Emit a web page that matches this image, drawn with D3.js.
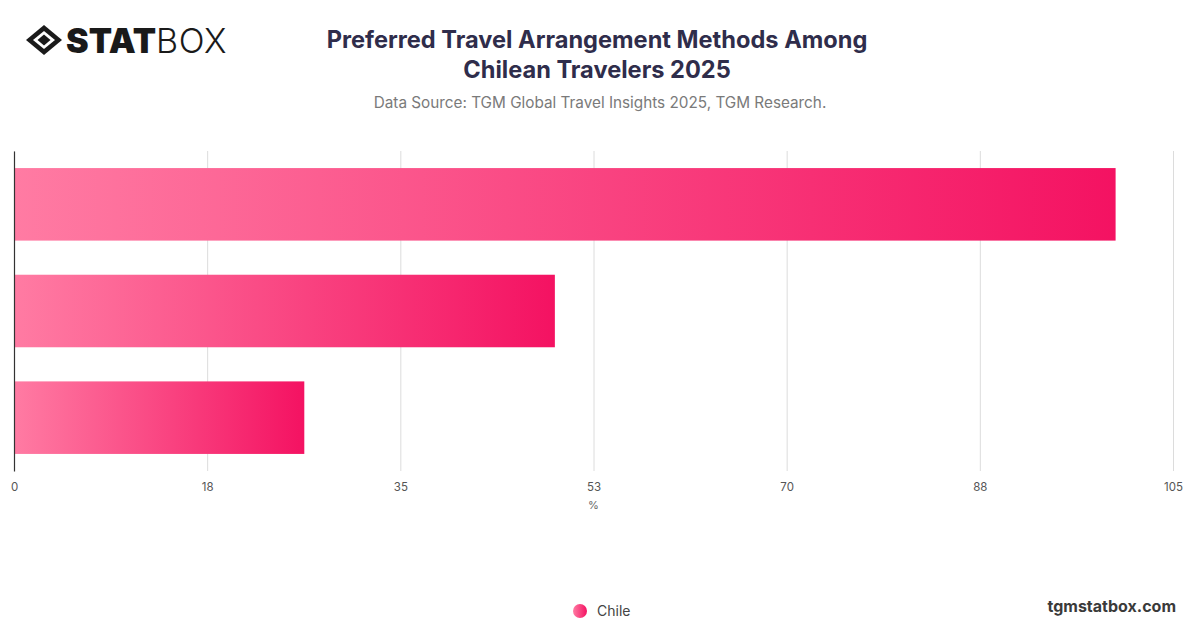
<!DOCTYPE html>
<html>
<head>
<meta charset="utf-8">
<script src="https://cdn.jsdelivr.net/npm/d3@7"></script>
<style>
  html, body { margin: 0; padding: 0; background: #fff; }
  svg { display: block; font-family: Inter, "Noto Sans", sans-serif; }
</style>
</head>
<body>
<div id="chart"></div>
<script>
// data
var categories = ["Online travel platforms", "Travel agencies", "Direct with providers"];
var values = [99.8, 49.0, 26.3];
var seriesName = "Chile";
var tickValues = [0, 17.5, 35, 52.5, 70, 87.5, 105];
var tickLabels = ["0", "18", "35", "53", "70", "88", "105"];

var W = 1200, H = 628;
var margin = {top: 151, right: 27, bottom: 157, left: 14};
var width = W - margin.left - margin.right;
var height = H - margin.top - margin.bottom;

var svg = d3.select("#chart").append("svg")
    .attr("width", W)
    .attr("height", H);

var defs = svg.append("defs");
var grad = defs.append("linearGradient")
    .attr("id", "barGrad")
    .attr("x1", "0%").attr("y1", "0%")
    .attr("x2", "100%").attr("y2", "0%");
grad.append("stop").attr("offset", "0%").attr("stop-color", "#ff7ba3");
grad.append("stop").attr("offset", "100%").attr("stop-color", "#f41262");

// logo
var logo = svg.append("g").attr("transform", "translate(26,40)");
logo.append("path")
    .attr("d", "M0,0 L18,-15 L36,0 L18,15 Z")
    .attr("fill", "#1a1a1a");
logo.append("path")
    .attr("d", "M7,0 L18,-9 L29,0 L18,9 Z")
    .attr("fill", "#fff");
logo.append("path")
    .attr("d", "M11.5,0 L18,-5.5 L24.5,0 L18,5.5 Z")
    .attr("fill", "#1a1a1a");
logo.append("text")
    .attr("x", 40).attr("y", 12.5)
    .style("font-family", "Inter, sans-serif")
    .style("font-weight", 900)
    .style("font-size", "34px")
    .style("letter-spacing", "0px")
    .attr("fill", "#1a1a1a")
    .text("STAT")
  .append("tspan")
    .style("font-weight", 300)
    .style("letter-spacing", "0.5px")
    .text("BOX");

// title
svg.append("text")
    .attr("x", 597).attr("y", 48)
    .attr("text-anchor", "middle")
    .style("font-size", "23.6px")
    .style("font-weight", 700)
    .attr("fill", "#2f2d4b")
    .text("Preferred Travel Arrangement Methods Among");
svg.append("text")
    .attr("x", 597).attr("y", 78)
    .attr("text-anchor", "middle")
    .style("font-size", "23.6px")
    .style("font-weight", 700)
    .attr("fill", "#2f2d4b")
    .text("Chilean Travelers 2025");
svg.append("text")
    .attr("x", 600).attr("y", 108)
    .attr("text-anchor", "middle")
    .style("font-size", "15.3px")
    .attr("fill", "#7a7a7a")
    .text("Data Source: TGM Global Travel Insights 2025, TGM Research.");

var g = svg.append("g")
    .attr("transform", "translate(" + margin.left + "," + margin.top + ")");

var xScale = d3.scaleLinear().domain([0, 105]).range([0, width]);
var yScale = d3.scaleBand().domain(categories).range([0, height])
    .paddingInner(0.32).paddingOuter(0.16);

// grid lines
var xGrid = d3.axisBottom(xScale).tickValues(tickValues).tickSize(-height).tickFormat("");
g.append("g")
    .attr("transform", "translate(0," + height + ")")
    .call(xGrid)
    .call(function(s) {
        s.select(".domain").remove();
        s.selectAll("line").attr("stroke", "#dcdcdc");
    });

// x axis labels
var xAxis = d3.axisBottom(xScale).tickValues(tickValues).tickSize(0)
    .tickFormat(function(d, i) { return tickLabels[i]; });
g.append("g")
    .attr("transform", "translate(0," + height + ")")
    .call(xAxis)
    .call(function(s) {
        s.select(".domain").remove();
        s.selectAll("text")
            .attr("dy", "1.05em")
            .attr("y", 8)
            .style("font-family", "Inter, sans-serif")
            .style("font-size", "11.5px")
            .attr("fill", "#555");
    });

g.append("text")
    .attr("x", width / 2).attr("y", height + 38)
    .attr("text-anchor", "middle")
    .style("font-size", "11px")
    .attr("fill", "#666")
    .text("%");

// bars
g.selectAll(".bar")
    .data(values)
    .enter().append("rect")
    .attr("class", "bar")
    .attr("x", 0)
    .attr("y", function(d, i) { return yScale(categories[i]); })
    .attr("width", function(d) { return xScale(d); })
    .attr("height", yScale.bandwidth())
    .attr("fill", "url(#barGrad)");

// y axis line
var yAxis = d3.axisLeft(yScale).tickSize(0).tickFormat("");
g.append("g")
    .call(yAxis)
    .call(function(s) {
        s.select(".domain").attr("stroke", "#333").attr("stroke-width", 1.2);
    });

// legend
var legend = svg.append("g").attr("transform", "translate(580,611)");
legend.append("circle").attr("r", 7).attr("fill", "url(#barGrad)");
legend.append("text")
    .attr("x", 17).attr("y", 5)
    .style("font-size", "14px")
    .attr("fill", "#444")
    .text(seriesName);

// watermark
svg.append("text")
    .attr("x", 1176).attr("y", 612)
    .attr("text-anchor", "end")
    .style("font-size", "16px")
    .style("font-weight", 700)
    .attr("fill", "#3a3a3a")
    .text("tgmstatbox.com");
</script>
</body>
</html>
